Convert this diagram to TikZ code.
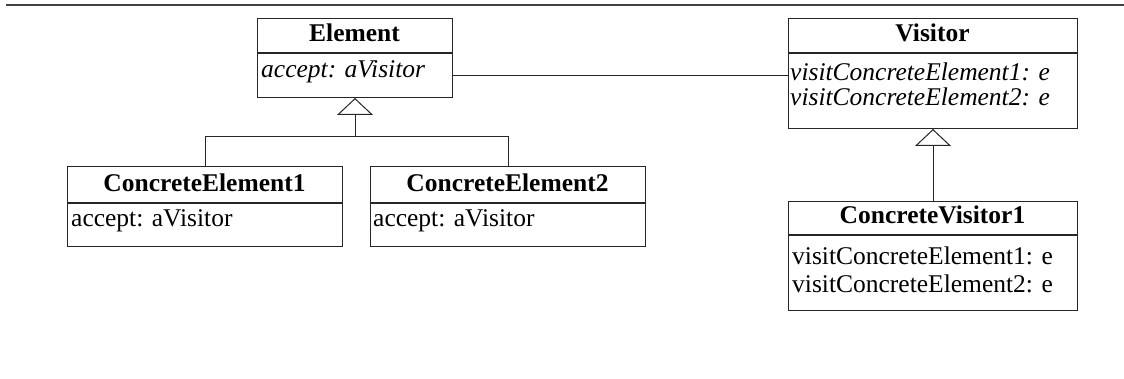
\documentclass[tikz,border=0pt]{standalone}
\usepackage{fontspec}
\setmainfont{Liberation Serif}
\usetikzlibrary{arrows.meta,calc}

\tikzset{
  box/.style={draw=black!85, line width=1pt, rectangle, inner sep=0pt, anchor=north west},
  title/.style={inner sep=0pt, anchor=base, font=\fontsize{25.5}{30}\selectfont\bfseries},
  member/.style={inner sep=0pt, anchor=base west, font=\fontsize{25.5}{30}\selectfont},
  abstract/.style={member, font=\fontsize{25.5}{30}\selectfont\itshape},
  link/.style={draw=black!85, line width=1pt},
  inherits/.style={link, -{Triangle[open, length=17pt, width=36pt, line width=1pt]}},
}

\begin{document}
\begin{tikzpicture}[x=1pt, y=-1pt]
  \useasboundingbox (0,0) rectangle (1124,379);

  % rule across the top of the page
  \coordinate (ruleL) at (6,5);
  \coordinate (ruleR) at (1124,5);
  \draw[black!75, line width=1.5pt] (ruleL) -- (ruleR);

  % Element (abstract)
  \node[box, minimum width=195pt, minimum height=34pt] (elemH) at (257,18) {};
  \node[box, minimum width=195pt, minimum height=44pt] (elemB) at (elemH.south west) {};
  \node[title] (elemT) at (354.5,42) {Element};
  \node[abstract] (elemOp) at (261,78) {accept: aVisitor};

  % Visitor (abstract)
  \node[box, minimum width=289pt, minimum height=34pt] (visH) at (788,18) {};
  \node[box, minimum width=289pt, minimum height=75pt] (visB) at (visH.south west) {};
  \node[title] (visT) at (932.5,42) {Visitor};
  \node[abstract] (visOp1) at (790,81) {visitConcreteElement1: e};
  \node[abstract] (visOp2) at (790,106) {visitConcreteElement2: e};

  % ConcreteElement1
  \node[box, minimum width=275pt, minimum height=36pt] (ce1H) at (67,166) {};
  \node[box, minimum width=275pt, minimum height=43pt] (ce1B) at (ce1H.south west) {};
  \node[title] (ce1T) at (204.5,192) {ConcreteElement1};
  \node[member] (ce1Op) at (71,227) {accept: aVisitor};

  % ConcreteElement2
  \node[box, minimum width=275pt, minimum height=36pt] (ce2H) at (370,166) {};
  \node[box, minimum width=275pt, minimum height=43pt] (ce2B) at (ce2H.south west) {};
  \node[title] (ce2T) at (507.5,192) {ConcreteElement2};
  \node[member] (ce2Op) at (373,227) {accept: aVisitor};

  % ConcreteVisitor1
  \node[box, minimum width=289pt, minimum height=33pt] (cv1H) at (788,201) {};
  \node[box, minimum width=289pt, minimum height=75pt] (cv1B) at (cv1H.south west) {};
  \node[title] (cv1T) at (932.5,224) {ConcreteVisitor1};
  \node[member] (cv1Op1) at (792,265) {visitConcreteElement1: e};
  \node[member] (cv1Op2) at (792,293) {visitConcreteElement2: e};

  % association Element -- Visitor
  \draw[link] (elemB.east) -- (elemB.east -| visB.west);

  % generalisation of the concrete elements
  \coordinate (elemJ) at ($(elemB.south)+(0,39)$);
  \draw[inherits] (ce1H.north) |- (elemJ) -- (elemB.south);
  \draw[link] (ce2H.north) |- (elemJ);

  % generalisation of the concrete visitor
  \draw[inherits] (cv1H.north) -- (visB.south);
\end{tikzpicture}
\end{document}
